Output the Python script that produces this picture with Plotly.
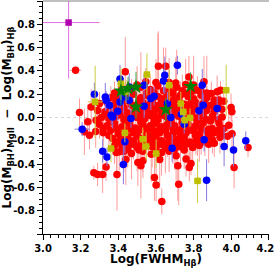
import plotly.graph_objects as go

# ---- data (x = Log FWHM_Hb, y = mass difference, ex, ey) ----
red_pts = [
    (3.173, 0.406, 0.03, 0.03), (3.437, 0.392, 0.02, 0.30), (3.613, 0.440, 0.02, 0.30),
    (3.652, 0.440, 0.02, 0.16), (3.775, 0.348, 0.02, 0.18), (3.546, 0.306, 0.02, 0.12),
    (3.855, 0.306, 0.02, 0.22), (3.705, 0.297, 0.02, 0.22), (3.758, 0.283, 0.02, 0.22),
    (3.194, 0.043, 0.02, 0.12), (3.256, 0.091, 0.02, 0.15), (3.220, -0.123, 0.02, 0.20),
    (3.247, -0.152, 0.02, 0.12), (3.282, -0.023, 0.02, 0.10), (3.238, -0.037, 0.02, 0.15),
    (3.60, 0.30, 0.02, 0.20), (3.50, 0.28, 0.02, 0.16), (3.80, 0.28, 0.02, 0.25),
    (3.67, 0.30, 0.02, 0.12),
    # ~0.24
    (3.42, 0.25, 0.02, 0.14), (3.47, 0.23, 0.02, 0.10), (3.52, 0.26, 0.02, 0.30),
    (3.57, 0.24, 0.02, 0.12), (3.61, 0.27, 0.02, 0.45), (3.64, 0.23, 0.02, 0.37),
    (3.67, 0.25, 0.02, 0.26), (3.71, 0.26, 0.02, 0.32), (3.74, 0.23, 0.02, 0.14),
    (3.79, 0.22, 0.02, 0.10), (3.82, 0.234, 0.02, 0.12), (3.87, 0.21, 0.02, 0.32),
    (3.894, 0.206, 0.02, 0.10), (3.925, 0.22, 0.02, 0.14), (3.943, 0.234, 0.02, 0.08),
    (3.55, 0.21, 0.02, 0.09),
    # ~0.21
    (3.38, 0.21, 0.02, 0.10), (3.45, 0.215, 0.02, 0.10), (3.59, 0.215, 0.02, 0.10),
    (3.69, 0.21, 0.02, 0.10), (3.76, 0.205, 0.02, 0.10), (3.84, 0.22, 0.02, 0.10),
    # ~0.18
    (3.36, 0.17, 0.02, 0.10), (3.40, 0.19, 0.02, 0.08), (3.44, 0.18, 0.02, 0.12),
    (3.48, 0.20, 0.02, 0.10), (3.52, 0.17, 0.02, 0.08), (3.55, 0.19, 0.02, 0.10),
    (3.61, 0.18, 0.02, 0.12), (3.63, 0.16, 0.02, 0.08), (3.66, 0.19, 0.02, 0.10),
    (3.70, 0.17, 0.02, 0.09), (3.73, 0.19, 0.02, 0.12), (3.77, 0.18, 0.02, 0.10),
    (3.80, 0.16, 0.02, 0.08), (3.84, 0.19, 0.02, 0.12), (3.87, 0.17, 0.02, 0.10),
    (3.91, 0.15, 0.02, 0.08), (3.935, 0.15, 0.02, 0.10), (3.96, 0.14, 0.02, 0.12),
    # ~0.145
    (3.39, 0.15, 0.02, 0.08), (3.45, 0.145, 0.02, 0.08), (3.51, 0.15, 0.02, 0.08),
    (3.58, 0.14, 0.02, 0.08), (3.65, 0.15, 0.02, 0.08), (3.72, 0.145, 0.02, 0.08),
    (3.79, 0.14, 0.02, 0.08), (3.86, 0.15, 0.02, 0.08),
    # ~0.12
    (3.30, 0.12, 0.02, 0.10), (3.34, 0.13, 0.02, 0.08), (3.38, 0.11, 0.02, 0.10),
    (3.42, 0.12, 0.02, 0.08), (3.46, 0.14, 0.02, 0.10), (3.50, 0.11, 0.02, 0.08),
    (3.53, 0.13, 0.02, 0.10), (3.57, 0.12, 0.02, 0.08), (3.60, 0.10, 0.02, 0.10),
    (3.63, 0.13, 0.02, 0.08), (3.67, 0.14, 0.02, 0.10), (3.70, 0.11, 0.02, 0.08),
    (3.74, 0.12, 0.02, 0.10), (3.78, 0.10, 0.02, 0.08), (3.81, 0.13, 0.02, 0.10),
    (3.85, 0.12, 0.02, 0.08), (3.89, 0.105, 0.02, 0.10), (3.93, 0.12, 0.02, 0.08),
    # ~0.10
    (3.40, 0.10, 0.02, 0.08), (3.47, 0.105, 0.02, 0.08), (3.55, 0.10, 0.02, 0.08),
    (3.62, 0.105, 0.02, 0.08), (3.68, 0.10, 0.02, 0.08), (3.76, 0.11, 0.02, 0.08),
    (3.83, 0.10, 0.02, 0.08), (3.91, 0.09, 0.02, 0.08),
    # ~0.085
    (3.36, 0.09, 0.02, 0.08), (3.43, 0.085, 0.02, 0.08), (3.50, 0.09, 0.02, 0.08),
    (3.58, 0.08, 0.02, 0.08), (3.65, 0.09, 0.02, 0.08), (3.71, 0.085, 0.02, 0.08),
    (3.78, 0.08, 0.02, 0.08), (3.86, 0.09, 0.02, 0.08), (3.93, 0.085, 0.02, 0.08),
    # ~0.06
    (3.29, 0.06, 0.02, 0.10), (3.33, 0.05, 0.02, 0.08), (3.37, 0.07, 0.02, 0.10),
    (3.41, 0.06, 0.02, 0.08), (3.45, 0.04, 0.02, 0.10), (3.49, 0.07, 0.02, 0.08),
    (3.52, 0.05, 0.02, 0.10), (3.56, 0.06, 0.02, 0.08), (3.59, 0.04, 0.02, 0.10),
    (3.62, 0.07, 0.02, 0.08), (3.66, 0.05, 0.02, 0.10), (3.70, 0.06, 0.02, 0.08),
    (3.73, 0.08, 0.02, 0.10), (3.76, 0.05, 0.02, 0.08), (3.80, 0.07, 0.02, 0.10),
    (3.84, 0.04, 0.02, 0.08), (3.87, 0.06, 0.02, 0.10), (3.91, 0.05, 0.02, 0.08),
    (3.95, 0.07, 0.02, 0.10), (3.999, 0.086, 0.02, 0.12), (4.003, 0.05, 0.02, 0.08),
    # ~0.025
    (3.33, 0.03, 0.02, 0.08), (3.41, 0.025, 0.02, 0.08), (3.48, 0.03, 0.02, 0.08),
    (3.56, 0.02, 0.02, 0.08), (3.63, 0.03, 0.02, 0.08), (3.70, 0.025, 0.02, 0.08),
    (3.78, 0.03, 0.02, 0.08), (3.85, 0.02, 0.02, 0.08),
    # ~0.0
    (3.31, 0.00, 0.02, 0.10), (3.35, -0.01, 0.02, 0.08), (3.39, 0.01, 0.02, 0.10),
    (3.43, -0.02, 0.02, 0.08), (3.47, 0.02, 0.02, 0.10), (3.50, 0.00, 0.02, 0.08),
    (3.54, -0.01, 0.02, 0.10), (3.58, 0.01, 0.02, 0.08), (3.61, -0.02, 0.02, 0.10),
    (3.64, 0.02, 0.02, 0.08), (3.68, -0.03, 0.02, 0.10), (3.72, 0.01, 0.02, 0.08),
    (3.76, -0.01, 0.02, 0.10), (3.79, 0.02, 0.02, 0.08), (3.83, 0.00, 0.02, 0.10),
    (3.87, -0.02, 0.02, 0.08), (3.90, 0.01, 0.02, 0.10), (3.952, 0.005, 0.02, 0.10),
    (3.37, 0.00, 0.02, 0.08), (3.45, 0.005, 0.02, 0.08), (3.52, 0.01, 0.02, 0.08),
    (3.60, 0.00, 0.02, 0.08), (3.66, 0.00, 0.02, 0.08), (3.74, 0.005, 0.02, 0.08),
    (3.81, -0.005, 0.02, 0.08), (3.93, -0.02, 0.02, 0.08),
    # ~-0.035
    (3.36, -0.035, 0.02, 0.08), (3.44, -0.03, 0.02, 0.08), (3.52, -0.04, 0.02, 0.08),
    (3.59, -0.035, 0.02, 0.08), (3.67, -0.03, 0.02, 0.08), (3.74, -0.04, 0.02, 0.08),
    (3.82, -0.035, 0.02, 0.08), (3.89, -0.03, 0.02, 0.08),
    # ~-0.07
    (3.30, -0.06, 0.02, 0.12), (3.34, -0.07, 0.02, 0.10), (3.38, -0.05, 0.02, 0.08),
    (3.42, -0.08, 0.02, 0.10), (3.46, -0.06, 0.02, 0.08), (3.49, -0.09, 0.02, 0.10),
    (3.53, -0.06, 0.02, 0.08), (3.57, -0.07, 0.02, 0.10), (3.60, -0.05, 0.02, 0.08),
    (3.63, -0.08, 0.02, 0.10), (3.66, -0.06, 0.02, 0.08), (3.70, -0.07, 0.02, 0.10),
    (3.74, -0.09, 0.02, 0.08), (3.77, -0.06, 0.02, 0.10), (3.81, -0.07, 0.02, 0.08),
    (3.85, -0.05, 0.02, 0.10), (3.899, -0.094, 0.02, 0.12), (3.935, -0.051, 0.02, 0.08),
    (3.96, -0.094, 0.02, 0.10), (3.987, -0.066, 0.02, 0.12),
    # ~-0.10
    (3.39, -0.095, 0.02, 0.08), (3.47, -0.10, 0.02, 0.08), (3.55, -0.095, 0.02, 0.08),
    (3.62, -0.10, 0.02, 0.08), (3.69, -0.095, 0.02, 0.08), (3.77, -0.10, 0.02, 0.08),
    (3.84, -0.095, 0.02, 0.08),
    (3.32, -0.095, 0.02, 0.10), (3.43, -0.105, 0.02, 0.10), (3.51, -0.10, 0.02, 0.10),
    (3.58, -0.10, 0.02, 0.10), (3.65, -0.105, 0.02, 0.10), (3.73, -0.11, 0.02, 0.10),
    (3.80, -0.10, 0.02, 0.10), (3.88, -0.10, 0.02, 0.10), (3.93, -0.11, 0.02, 0.10),
    # ~-0.13
    (3.28, -0.12, 0.02, 0.14), (3.32, -0.13, 0.02, 0.12), (3.36, -0.11, 0.02, 0.10),
    (3.40, -0.14, 0.02, 0.12), (3.44, -0.12, 0.02, 0.10), (3.48, -0.13, 0.02, 0.12),
    (3.51, -0.11, 0.02, 0.10), (3.55, -0.14, 0.02, 0.12), (3.59, -0.12, 0.02, 0.10),
    (3.62, -0.13, 0.02, 0.12), (3.65, -0.11, 0.02, 0.10), (3.69, -0.14, 0.02, 0.12),
    (3.72, -0.12, 0.02, 0.10), (3.76, -0.13, 0.02, 0.12), (3.79, -0.11, 0.02, 0.10),
    (3.83, -0.14, 0.02, 0.12), (3.87, -0.12, 0.02, 0.10), (3.91, -0.13, 0.02, 0.12),
    (3.95, -0.15, 0.02, 0.10), (4.004, -0.14, 0.02, 0.12),
    # ~-0.155
    (3.35, -0.155, 0.02, 0.10), (3.43, -0.16, 0.02, 0.10), (3.50, -0.155, 0.02, 0.10),
    (3.58, -0.16, 0.02, 0.10), (3.66, -0.155, 0.02, 0.10), (3.73, -0.16, 0.02, 0.10),
    (3.81, -0.155, 0.02, 0.10), (3.88, -0.16, 0.02, 0.10),
    # ~-0.19
    (3.37, -0.18, 0.02, 0.14), (3.41, -0.19, 0.02, 0.12), (3.45, -0.17, 0.02, 0.14),
    (3.48, -0.20, 0.02, 0.16), (3.52, -0.18, 0.02, 0.12), (3.56, -0.19, 0.02, 0.14),
    (3.60, -0.17, 0.02, 0.12), (3.63, -0.20, 0.02, 0.16), (3.67, -0.18, 0.02, 0.12),
    (3.71, -0.19, 0.02, 0.14), (3.75, -0.17, 0.02, 0.12), (3.78, -0.21, 0.02, 0.16),
    (3.812, -0.20, 0.02, 0.12), (3.84, -0.18, 0.02, 0.14), (3.90, -0.19, 0.02, 0.12),
    (3.94, -0.17, 0.02, 0.14), (3.98, -0.16, 0.02, 0.12),
    # ~-0.22
    (3.44, -0.215, 0.02, 0.12), (3.52, -0.22, 0.02, 0.12), (3.59, -0.215, 0.02, 0.12),
    (3.66, -0.22, 0.02, 0.12), (3.73, -0.215, 0.02, 0.12), (3.86, -0.21, 0.02, 0.12),
    (3.39, -0.215, 0.02, 0.12), (3.48, -0.23, 0.02, 0.12), (3.56, -0.22, 0.02, 0.12),
    (3.63, -0.225, 0.02, 0.12), (3.70, -0.215, 0.02, 0.12), (3.77, -0.22, 0.02, 0.12),
    (3.82, -0.21, 0.02, 0.12), (3.91, -0.22, 0.02, 0.12),
    # ~-0.25
    (3.38, -0.24, 0.02, 0.16), (3.42, -0.25, 0.02, 0.18), (3.46, -0.23, 0.02, 0.14),
    (3.50, -0.26, 0.02, 0.20), (3.54, -0.24, 0.02, 0.16), (3.58, -0.25, 0.02, 0.18),
    (3.62, -0.23, 0.02, 0.14), (3.65, -0.26, 0.02, 0.22), (3.69, -0.24, 0.02, 0.16),
    (3.73, -0.25, 0.02, 0.18), (3.76, -0.23, 0.02, 0.14), (3.795, -0.257, 0.02, 0.16),
    (3.83, -0.24, 0.02, 0.14), (3.88, -0.23, 0.02, 0.16), (4.089, -0.258, 0.02, 0.08),
    # ~-0.29
    (3.39, -0.30, 0.02, 0.20), (3.43, -0.29, 0.02, 0.18), (3.47, -0.31, 0.02, 0.22),
    (3.51, -0.28, 0.02, 0.16), (3.575, -0.315, 0.02, 0.24), (3.63, -0.30, 0.02, 0.20),
    (3.67, -0.29, 0.02, 0.18), (3.707, -0.329, 0.02, 0.22), (3.405, -0.295, 0.02, 0.16),
    (3.45, -0.27, 0.02, 0.16), (3.53, -0.29, 0.02, 0.18), (3.60, -0.28, 0.02, 0.16),
    (3.70, -0.27, 0.02, 0.18), (3.75, -0.28, 0.02, 0.16),
    # sparse lower part
    (3.335, -0.424, 0.02, 0.12), (3.504, -0.386, 0.02, 0.20), (3.531, -0.372, 0.02, 0.15),
    (3.520, -0.415, 0.02, 0.28), (3.270, -0.475, 0.02, 0.06), (3.290, -0.489, 0.02, 0.10),
    (3.317, -0.489, 0.02, 0.16), (3.393, -0.489, 0.02, 0.31), (3.592, -0.515, 0.02, 0.20),
    (3.601, -0.580, 0.02, 0.14), (3.631, -0.720, 0.02, 0.11), (3.721, -0.572, 0.02, 0.18),
    (3.716, -0.415, 0.02, 0.30), (3.760, -0.357, 0.02, 0.15), (3.777, -0.429, 0.02, 0.12),
    (3.786, -0.395, 0.02, 0.10), (4.015, -0.429, 0.02, 0.18), (3.440, -0.360, 0.02, 0.22),
    (3.620, -0.360, 0.02, 0.25),
]

blue_pts = [
    (3.409, 0.331, 0.02, 0.12), (3.273, 0.200, 0.02, 0.10), (3.331, 0.177, 0.02, 0.12),
    (3.335, 0.148, 0.02, 0.08), (3.353, 0.106, 0.02, 0.10), (3.397, 0.054, 0.02, 0.08),
    (3.370, 0.005, 0.02, 0.10), (3.427, 0.177, 0.02, 0.14), (3.409, 0.134, 0.02, 0.08),
    (3.458, 0.262, 0.02, 0.12), (3.537, 0.277, 0.02, 0.10), (3.458, 0.148, 0.02, 0.08),
    (3.573, 0.163, 0.02, 0.10), (3.590, 0.183, 0.02, 0.08), (3.537, 0.097, 0.02, 0.10),
    (3.467, -0.009, 0.02, 0.08), (3.661, 0.120, 0.02, 0.10), (3.679, 0.000, 0.02, 0.08),
    (3.735, 0.028, 0.02, 0.10), (3.647, 0.363, 0.02, 0.16), (3.640, 0.314, 0.02, 0.10),
    (3.714, 0.449, 0.02, 0.08), (3.846, 0.277, 0.02, 0.14), (3.851, 0.106, 0.02, 0.10),
    (3.828, 0.057, 0.02, 0.08), (3.925, 0.077, 0.02, 0.10), (3.750, -0.057, 0.02, 0.08),
    (3.208, -0.100, 0.04, 0.06), (3.317, -0.289, 0.02, 0.10), (3.340, -0.338, 0.02, 0.08),
    (3.427, -0.403, 0.02, 0.17), (3.435, -0.209, 0.02, 0.10), (3.856, -0.192, 0.02, 0.10),
    (3.686, -0.263, 0.02, 0.12), (3.962, -0.249, 0.02, 0.17), (4.012, -0.278, 0.02, 0.14),
    (4.077, -0.200, 0.02, 0.08), (3.869, -0.538, 0.02, 0.18), (3.362, 0.020, 0.02, 0.08),
]

yellow_pts = [
    (3.277, 0.134, 0.04, 0.31), (3.414, 0.290, 0.02, 0.14), (3.441, 0.222, 0.02, 0.10),
    (3.552, 0.369, 0.02, 0.18), (3.670, 0.277, 0.02, 0.14), (3.973, 0.234, 0.02, 0.22),
    (3.732, 0.120, 0.02, 0.10), (3.745, 0.048, 0.02, 0.08), (3.753, -0.023, 0.02, 0.08),
    (3.781, -0.003, 0.02, 0.08), (3.361, -0.266, 0.02, 0.12), (3.435, -0.132, 0.02, 0.08),
    (3.530, -0.186, 0.02, 0.10), (3.548, -0.249, 0.02, 0.12), (3.601, -0.309, 0.02, 0.12),
    (3.821, -0.544, 0.02, 0.19),
]

green_pts = [
    (3.414, 0.228, 0.02, 0.12), (3.452, 0.249, 0.02, 0.10), (3.494, 0.262, 0.02, 0.13),
    (3.494, 0.091, 0.02, 0.10), (3.652, 0.068, 0.02, 0.10), (3.784, 0.268, 0.02, 0.12),
]

magenta_x = [3.136]
magenta_y = [0.815]
magenta_ex_minus = [0.136]
magenta_ex_plus = [0.164]
magenta_ey_minus = [0.48]
magenta_ey_plus = [0.25]

x_range = [3.0, 4.2005]
x_tick_vals = [3.0, 3.2, 3.4, 3.6, 3.8, 4.0, 4.2]
x_tick_text = ["3.0", "3.2", "3.4", "3.6", "3.8", "4.0", "4.2\u00a0\u00a0"]
y_range = [-1.0, 1.0]
y_tick_vals = [-1.0, -0.8, -0.6, -0.4, -0.2, 0.0, 0.2, 0.4, 0.6, 0.8, 1.0]
y_tick_text = [" ", "-0.8", "-0.6", "-0.4", "-0.2", "0.0", "0.2", "0.4", "0.6", "0.8", " "]

x_title = "Log(FWHM<sub>Hβ</sub>)"
y_title = "Log(M<sub>BH</sub>)<sub>MgII</sub>  −  Log(M<sub>BH</sub>)<sub>Hβ</sub>"


def cols(pts):
    return ([p[0] for p in pts], [p[1] for p in pts],
            [p[2] for p in pts], [p[3] for p in pts])


fig = go.Figure()


def add_series(pts, color, ecolor, symbol, size):
    xs, ys, exs, eys = cols(pts)
    fig.add_trace(go.Scatter(
        x=xs, y=ys, mode="markers",
        marker=dict(color=color, size=size, symbol=symbol, line=dict(width=0)),
        error_x=dict(type="data", array=exs, color=ecolor, thickness=1, width=0),
        error_y=dict(type="data", array=eys, color=ecolor, thickness=1, width=0),
    ))


add_series(red_pts, "#ff0000", "#ff9a9a", "circle", 7.5)
add_series(blue_pts, "#0000ff", "#8878e0", "circle", 7.5)
add_series(yellow_pts, "#bfbf00", "#cccc40", "square", 6.5)
add_series(green_pts, "#008000", "#40a040", "star", 11)

fig.add_trace(go.Scatter(
    x=magenta_x, y=magenta_y, mode="markers",
    marker=dict(color="#b000b0", size=6.5, symbol="square"),
    error_x=dict(type="data", symmetric=False, array=magenta_ex_plus,
                 arrayminus=magenta_ex_minus, color="#e070e0", thickness=1, width=0),
    error_y=dict(type="data", symmetric=False, array=magenta_ey_plus,
                 arrayminus=magenta_ey_minus, color="#e070e0", thickness=1, width=0),
))

bold = dict(family="DejaVu Sans", size=10, color="black", weight="bold")
tbold = dict(family="DejaVu Sans", size=12, color="black", weight="bold")

fig.update_layout(
    width=274, height=268,
    margin=dict(l=43, r=5, t=1, b=34),
    plot_bgcolor="white", paper_bgcolor="white",
    showlegend=False,
    font=dict(family="DejaVu Sans", size=10, color="black"),
    xaxis=dict(
        range=x_range, showgrid=False, zeroline=False, automargin=False,
        showline=True, linecolor="black", linewidth=1,
        ticks="outside", ticklen=5, tickcolor="black", ticklabeloverflow="allow",
        tickmode="array", tickvals=x_tick_vals, ticktext=x_tick_text, tickfont=bold,
        minor=dict(ticks="outside", ticklen=3, tickcolor="black",
                   tickmode="linear", dtick=0.04, tick0=3.0),
        title=dict(text=x_title, font=tbold),
    ),
    yaxis=dict(
        range=y_range, showgrid=False, zeroline=False, automargin=False,
        showline=True, linecolor="black", linewidth=1,
        ticks="outside", ticklen=5, tickcolor="black", ticklabeloverflow="allow",
        tickmode="array", tickvals=y_tick_vals, ticktext=y_tick_text, tickfont=bold,
        minor=dict(ticks="outside", ticklen=3, tickcolor="black",
                   tickmode="linear", tick0=0.0, dtick=0.05),
        title=dict(text=y_title, font=tbold),
    ),
    shapes=[
        dict(type="line", xref="paper", yref="y", x0=0, x1=1, y0=0, y1=0,
             line=dict(color="#d8d8d8", width=1, dash="dot"), layer="below"),
        dict(type="line", xref="paper", yref="paper", x0=0, x1=1, y0=1, y1=1,
             line=dict(color="#808080", width=1)),
    ],
)

fig.write_html(
    "out.html",
    config={"displayModeBar": False},
    post_script="document.body.style.margin='0px';document.body.style.overflow='hidden';",
)
